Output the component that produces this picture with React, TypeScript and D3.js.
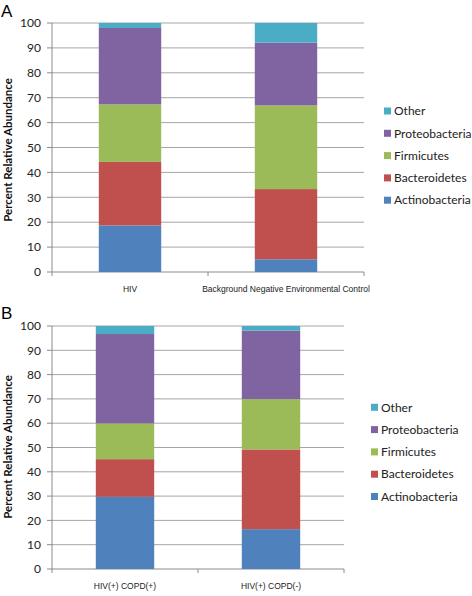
import React from "react";
import * as d3 from "d3";

const seriesNames = ["Actinobacteria", "Bacteroidetes", "Firmicutes", "Proteobacteria", "Other"];
const seriesColors = ["#4F81BD", "#C0504D", "#9BBB59", "#8064A2", "#4BACC6"];
const yTicks = [0, 10, 20, 30, 40, 50, 60, 70, 80, 90, 100];

const categoriesA = ["HIV", "Background Negative Environmental Control"];
const actinoA = [18.7, 5.1];
const bacteroA = [25.5, 28.2];
const firmiA = [23.1, 33.6];
const proteoA = [30.7, 25.2];
const otherA = [2.0, 7.9];

const categoriesB = ["HIV(+) COPD(+)", "HIV(+) COPD(-)"];
const actinoB = [29.7, 16.4];
const bacteroB = [15.5, 32.8];
const firmiB = [14.7, 20.7];
const proteoB = [36.8, 28.2];
const otherB = [3.3, 1.9];

type PanelProps = {
  letter: string;
  categories: string[];
  values: number[][];
  top: number;
  x0: number;
  x1: number;
  y0: number;
  y1: number;
  legendX: number;
  legendY: number;
  titleY: number;
};

const Panel = ({ letter, categories, values, top, x0, x1, y0, y1, legendX, legendY, titleY }: PanelProps) => {
  const x = d3.scaleBand<string>().domain(categories).range([x0, x1]).paddingInner(0.6).paddingOuter(0.3);
  const bandX = d3.scaleBand<string>().domain(categories).range([x0, x1]);
  const y = d3.scaleLinear().domain([0, 100]).range([y0, y1]);
  const rows = categories.map((c, i) => {
    const r: any = { cat: c };
    seriesNames.forEach((s, k) => (r[s] = values[k][i]));
    return r;
  });
  const stacked = d3.stack<any>().keys(seriesNames)(rows);
  const lab = "Lato, 'Open Sans', sans-serif";
  return (
    <g>
      <text x={1} y={top + 17} fontFamily="'Liberation Sans', Arial, sans-serif" fontSize={17}>{letter}</text>
      {yTicks.map((t) => (
        <g key={t}>
          {t > 0 && <line x1={x0} x2={x1} y1={y(t)} y2={y(t)} stroke="#a6a6a6" strokeWidth={1} />}
          <line x1={x0 - 5} x2={x0} y1={y(t)} y2={y(t)} stroke="#8c8c8c" strokeWidth={1} />
          <text x={x0 - 11} y={y(t)} dy="0.35em" textAnchor="end" fontFamily={lab} fontSize={12} fill="#222">{t}</text>
        </g>
      ))}
      <line x1={x0} x2={x0} y1={y0} y2={y1} stroke="#8c8c8c" />
      <line x1={x0} x2={x1} y1={y0} y2={y0} stroke="#8c8c8c" />
      {[...categories.map((c) => bandX(c)!), x1].map((v, i) => (
        <line key={i} x1={v} x2={v} y1={y0} y2={y0 + 4} stroke="#8c8c8c" />
      ))}
      {stacked.map((layer, k) => (
        <g key={layer.key} fill={seriesColors[k]}>
          {layer.map((d, i) => (
            <rect key={i} x={x(categories[i])} width={x.bandwidth()} y={y(d[1])} height={y(d[0]) - y(d[1])} />
          ))}
        </g>
      ))}
      {categories.map((c) => (
        <text key={c} x={bandX(c)! + bandX.bandwidth() / 2} y={y0 + 20} textAnchor="middle" fontFamily="'Liberation Sans', Arial, sans-serif" fontSize={8.5} fill="#222">{c}</text>
      ))}
      <text transform={`translate(12,${titleY}) rotate(-90)`} textAnchor="middle" fontFamily={lab} fontWeight="bold" fontSize={11.5} fill="#111">Percent Relative Abundance</text>
      {seriesNames.slice().reverse().map((s, j) => {
        const k = seriesNames.length - 1 - j;
        const ly = legendY + j * 22.3;
        return (
          <g key={s}>
            <rect x={legendX} y={ly - 3.5} width={7} height={7} fill={seriesColors[k]} />
            <text x={legendX + 10} y={ly} dy="0.35em" fontFamily={lab} fontSize={12} fill="#222">{s}</text>
          </g>
        );
      })}
    </g>
  );
};

export default function App() {
  return (
    <svg width={472} height={596} style={{ position: "absolute", left: 0, top: 0, background: "#fff" }}>
      <Panel letter="A" categories={categoriesA} values={[actinoA, bacteroA, firmiA, proteoA, otherA]}
        top={0} x0={52} x1={364} y0={272} y1={23} legendX={384} legendY={111} titleY={150} />
      <Panel letter="B" categories={categoriesB} values={[actinoB, bacteroB, firmiB, proteoB, otherB]}
        top={302} x0={52} x1={344} y0={569} y1={326} legendX={371} legendY={407.3} titleY={447} />
    </svg>
  );
}
